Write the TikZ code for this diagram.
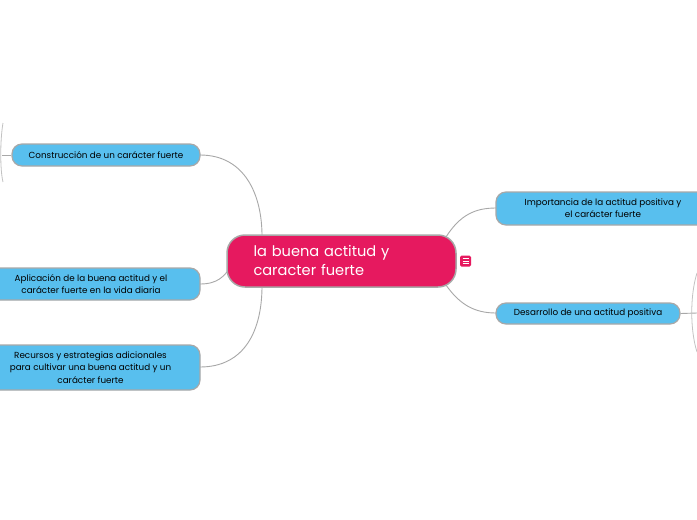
\documentclass[tikz,border=0pt]{standalone}
\usepackage{fontspec}
\setmainfont{Poppins}
\definecolor{pinkc}{HTML}{E6195F}
\definecolor{bluec}{HTML}{58BFEE}
\definecolor{edgec}{HTML}{A8A8A8}
\begin{document}
\begin{tikzpicture}[x=1pt,y=-1pt,
  topic/.style={draw=edgec,line width=1.2pt,fill=bluec,rounded corners=10pt,inner sep=0pt,align=center,font=\fontsize{8.8}{12.3}\selectfont,text=black},
  central/.style={draw=edgec,line width=1.5pt,fill=pinkc,rounded corners=18pt,inner sep=0pt,align=left,font=\fontsize{14.6}{19}\selectfont,text=white},
  link/.style={draw=edgec,line width=0.9pt},
  bracket/.style={draw=edgec!70,line width=0.8pt}]
\useasboundingbox (0,0) rectangle (697,520);
\fill[white] (0,0) rectangle (697,520);
% connectors
\coordinate (c1) at (262,236);
\coordinate (c2) at (230,268);
\coordinate (c3) at (262,286);
\coordinate (c4) at (446,237);
\coordinate (c5) at (446,285);
\draw[link] (200,155) .. controls (245,155) and (262,195) .. (c1);
\draw[link] (200,284) .. controls (218,284) and (224,276) .. (c2);
\draw[link] (200,367) .. controls (245,367) and (262,330) .. (c3);
\draw[link] (c4) .. controls (460,215) and (475,208) .. (496,208);
\draw[link] (c5) .. controls (460,305) and (475,313) .. (496,313);
% nodes
\node[central,minimum width=229pt,minimum height=52pt,text width=200pt] (center) at (341.5,261) {\hspace*{12pt}la buena actitud y\\\hspace*{12pt}caracter fuerte};
\node[topic,minimum width=188pt,minimum height=22pt] (constr) at (106,155) {Construcción de un carácter fuerte};
\node[topic,minimum width=218pt,minimum height=32pt] (aplic) at (91,284) {Aplicación de la buena actitud y el\\carácter fuerte en la vida diaria};
\node[topic,minimum width=219pt,minimum height=45pt] (recur) at (90.5,367.5) {Recursos y estrategias adicionales\\para cultivar una buena actitud y un\\carácter fuerte};
\node[topic,minimum width=214pt,minimum height=33pt] (impor) at (603,208.5) {Importancia de la actitud positiva y\\el carácter fuerte};
\node[topic,minimum width=184pt,minimum height=21pt] (desar) at (588,313.5) {Desarrollo de una actitud positiva};
% menu icon
\node[fill=pinkc,rounded corners=1.5pt,minimum width=11pt,minimum height=11pt,inner sep=0pt] (menu) at (465.5,261) {};
\foreach \dy in {-2.6,0,2.6}{\draw[white,line width=0.8pt] ([xshift=-3pt,yshift=-\dy pt]menu.center) -- ([xshift=3pt,yshift=-\dy pt]menu.center);}
% left bracket
\coordinate (lb) at (2,155);
\draw[link] (constr.west) -- (lb);
\draw[bracket] (3,123) .. controls (0,140) and (0,170) .. (3,182);
% right bracket
\coordinate (rb) at (697,313);
\draw[link] (desar.east) -- (rb);
\draw[bracket] (697,273) .. controls (690,295) and (690,330) .. (697,352);
\end{tikzpicture}
\end{document}
